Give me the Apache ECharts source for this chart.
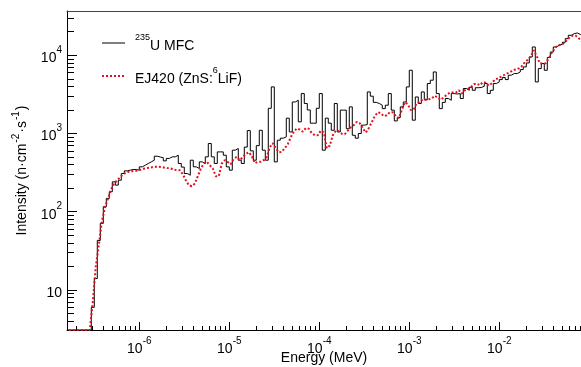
<!DOCTYPE html>
<html><head><meta charset="utf-8">
<script src="https://cdn.jsdelivr.net/npm/echarts@6/dist/echarts.min.js"></script>
<style>html,body{margin:0;padding:0;background:#fff}#c{width:581px;height:367px}</style>
</head><body><div id="c"></div>
<script>
// ---- data ----
const seriesNames = ['235U MFC', 'EJ420 (ZnS:6LiF)'];
const binsPerDecade = 30;          // log-uniform histogram binning
const firstEdgeExponent = -6.8;    // first bin edge = 10^-6.8 MeV
const mfcValues = [
  3.08,3.08,3.08,3.08,3.08,3.08,3.08,3.08,6,14,
  43,71,116,148,180,241,219,253,308,333,
  340,347,347,340,375,393,414,434,456,513,
  500,490,447,480,503,503,528,414,372,308,
  293,456,375,357,434,414,503,745,503,414,
  582,582,528,375,340,612,643,456,414,670,
  1090,600,456,700,1100,612,456,2100,3940,434,
  821,871,905,1570,1048,2530,2660,1410,3240,2420,
  2000,1355,1355,2100,3240,612,1570,1355,1100,2420,
  1048,1990,1990,1150,2190,950,871,1000,1280,1300,
  3400,3000,2500,2420,2300,2080,2300,3240,1990,1450,
  1600,2190,2530,3940,6430,1480,2930,2420,3400,2700,
  4350,4800,6120,3240,2080,2500,2800,2660,3240,3200,
  3240,2800,3760,3570,3900,3570,3850,3870,4020,4350,
  3240,3570,4350,4560,4890,5190,4890,5560,5840,5840,
  6120,6560,7100,7980,9510,12770,4560,6760,7830,6430,
  9350,11000,12770,13420,13810,14650,16320,18000,18900,19270,
  18500,18000
];
const ej420Values = [
  3.08,3.08,3.08,3.08,3.08,3.08,3.08,3.08,7,20,
  37,74,111,145,189,225,250,273,298,316,
  325,330,333,335,345,355,361,366,372,375,
  375,372,366,361,357,345,340,340,302,253,
  219,212,229,285,355,414,434,393,357,285,
  285,414,456,432,405,476,503,456,500,544,
  577,513,418,434,434,456,500,668,752,649,
  577,582,649,730,897,1054,1160,1120,1054,1170,
  1150,1008,950,950,1086,1030,650,700,950,1086,
  1070,993,980,1086,1200,1280,1410,1355,1170,1030,
  1170,1395,1665,1870,1820,1665,1710,1870,1870,1665,
  1570,1990,2510,2370,1990,2040,2440,2530,2740,2700,
  2740,2800,3040,2860,2700,2900,3130,3320,3340,3320,
  3570,3240,3570,3730,3900,4270,4350,4140,4520,4470,
  4080,4380,4870,5080,5310,5560,5840,6070,6380,6630,
  6760,7240,8150,8770,9710,11580,9710,7910,7830,7910,
  9150,10760,12280,13420,13600,14220,15550,17000,17860,17740,
  16490,15100
];
const xRange = [1.573e-7, 0.0809];
const yRange = [3.08, 36800];
const xMajorTicks = [1e-6, 1e-5, 1e-4, 1e-3, 1e-2];
const xMinorTicks = [
  2e-7,3e-7,4e-7,5e-7,6e-7,7e-7,8e-7,9e-7,
  2e-6,3e-6,4e-6,5e-6,6e-6,7e-6,8e-6,9e-6,
  2e-5,3e-5,4e-5,5e-5,6e-5,7e-5,8e-5,9e-5,
  2e-4,3e-4,4e-4,5e-4,6e-4,7e-4,8e-4,9e-4,
  2e-3,3e-3,4e-3,5e-3,6e-3,7e-3,8e-3,9e-3,
  2e-2,3e-2,4e-2,5e-2,6e-2,7e-2,8e-2
];
const yMajorTicks = [10, 100, 1000, 10000];
const yMinorTicks = [
  4,5,6,7,8,9,
  20,30,40,50,60,70,80,90,
  200,300,400,500,600,700,800,900,
  2000,3000,4000,5000,6000,7000,8000,9000,
  20000,30000
];

// ---- build ----
const edge = k => Math.pow(10, firstEdgeExponent + k / binsPerDecade);
const center = k => Math.pow(10, firstEdgeExponent + (k + 0.5) / binsPerDecade);
const mfcData = mfcValues.map((v, k) => [edge(k), v]);
mfcData.push([edge(mfcValues.length), mfcValues[mfcValues.length - 1]]);
const ejData = ej420Values.map((v, k) => [center(k), v]);

const FONT = '"Liberation Sans", Arial, Helvetica, sans-serif';
const rich = {
  b: {fontSize: 14, fontFamily: FONT, color: '#000', lineHeight: 20, verticalAlign: 'bottom'},
  s: {fontSize: 10, fontFamily: FONT, color: '#000', lineHeight: 10, verticalAlign: 'top'},
  g: {width: 5}
};
const richLegend = {
  b: {fontSize: 14, fontFamily: FONT, color: '#000', lineHeight: 20, verticalAlign: 'bottom'},
  s: {fontSize: 9, fontFamily: FONT, color: '#000', lineHeight: 10, verticalAlign: 'top'},
  g: {width: 5}
};
const richName = {
  b: {fontSize: 14, fontFamily: FONT, color: '#000', lineHeight: 18, verticalAlign: 'bottom'},
  s: {fontSize: 10, fontFamily: FONT, color: '#000', lineHeight: 12, verticalAlign: 'top', padding: [0, 1, 0, 1]}
};
const powLabel = (v, plainTen) => {
  const e = Math.round(Math.log10(v));
  if (plainTen && e === 1) return '{b|10}';
  return '{b|10}{s|' + e + '}';
};

const chart = echarts.init(document.getElementById('c'), null, {renderer: 'canvas'});
chart.setOption({
  animation: false,
  backgroundColor: '#fff',
  grid: {left: 67, right: 0, top: 11, bottom: 37, containLabel: false, outerBoundsMode: 'none'},
  legend: {
    orient: 'vertical', left: 101, top: 33, padding: 0, itemWidth: 23, itemHeight: 14, itemGap: 13,
    data: [
      {name: seriesNames[0], lineStyle: {width: 1, color: '#000'}},
      {name: seriesNames[1]}
    ],
    itemStyle: {opacity: 0},
    formatter: name => name === seriesNames[0]
      ? '{g|}{s|235}{b|U MFC}'
      : '{g|}{b|EJ420 (ZnS:}{s|6}{b|LiF)}',
    textStyle: {rich: richLegend}
  },
  xAxis: [
    {
      type: 'log', min: xRange[0], max: xRange[1], position: 'bottom',
      axisLine: {show: true, lineStyle: {color: '#000', width: 1}},
      axisTick: {show: true, inside: true, length: 8, customValues: xMajorTicks, lineStyle: {color: '#000'}},
      minorTick: {show: false},
      splitLine: {show: false},
      axisLabel: {customValues: xMajorTicks, margin: 6, formatter: v => powLabel(v, false), rich: rich},
      name: 'Energy (MeV)', nameLocation: 'middle', nameGap: 21, nameMoveOverlap: false,
      nameTextStyle: {fontSize: 14, fontFamily: FONT, color: '#000', verticalAlign: 'top'}
    },
    {
      type: 'log', min: xRange[0], max: xRange[1], position: 'bottom',
      axisLine: {show: false},
      axisTick: {show: true, inside: true, length: 4, customValues: xMinorTicks, lineStyle: {color: '#000'}},
      axisLabel: {show: false}, splitLine: {show: false}
    },
    {
      type: 'log', min: xRange[0], max: xRange[1], position: 'top',
      axisLine: {show: true, lineStyle: {color: '#444', width: 1}},
      axisTick: {show: false}, axisLabel: {show: false}, splitLine: {show: false}
    }
  ],
  yAxis: [
    {
      type: 'log', min: yRange[0], max: yRange[1], position: 'left',
      axisLine: {show: true, lineStyle: {color: '#000', width: 1}},
      axisTick: {show: true, inside: true, length: 10, customValues: yMajorTicks, lineStyle: {color: '#000'}},
      splitLine: {show: false},
      axisLabel: {customValues: yMajorTicks, margin: 5, formatter: v => powLabel(v, true), rich: rich},
      name: '{b|Intensity (n·cm}{s|-2}{b|·s}{s|-1}{b|)}', nameLocation: 'middle', nameGap: 38, nameRotate: 90,
      nameMoveOverlap: false,
      nameTextStyle: {rich: richName}
    },
    {
      type: 'log', min: yRange[0], max: yRange[1], position: 'left',
      axisLine: {show: false},
      axisTick: {show: true, inside: true, length: 7, customValues: yMinorTicks, lineStyle: {color: '#000'}},
      axisLabel: {show: false}, splitLine: {show: false}
    }
  ],
  series: [
    {
      name: seriesNames[0], type: 'line', step: 'end', data: mfcData,
      xAxisIndex: 0, yAxisIndex: 0, symbol: 'none', clip: true, z: 3,
      lineStyle: {color: '#000', width: 1}, itemStyle: {color: '#000'}
    },
    {
      name: seriesNames[1], type: 'line', data: ejData,
      xAxisIndex: 0, yAxisIndex: 0, symbol: 'none', clip: true, z: 4,
      lineStyle: {color: '#e3101c', width: 2, type: 'dotted'}, itemStyle: {color: '#e3101c'}
    }
  ]
});
</script></body></html>
